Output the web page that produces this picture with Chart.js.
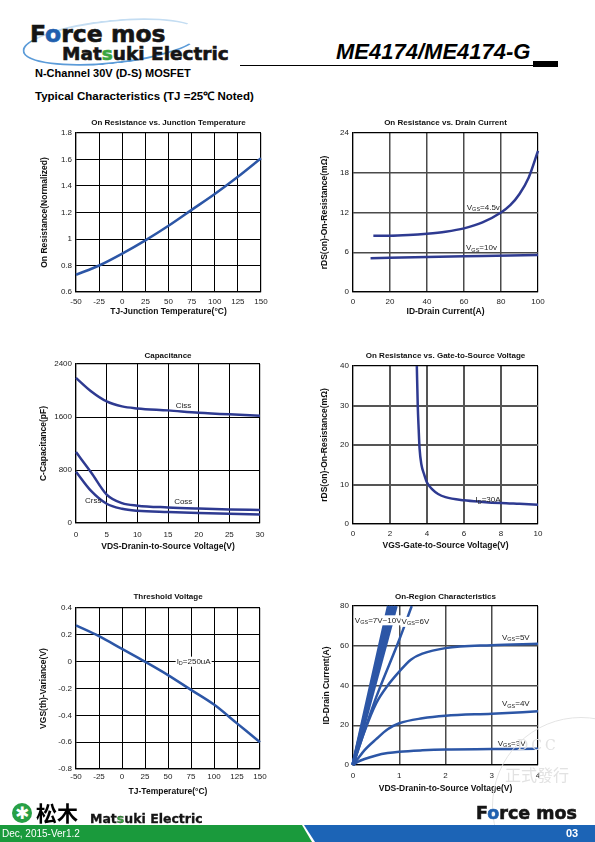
<!DOCTYPE html>
<html>
<head>
<meta charset="utf-8">
<script src="https://cdn.jsdelivr.net/npm/chart.js@4.4.1/dist/chart.umd.min.js"></script>
<style>
  body { margin: 0; width: 595px; height: 842px; position: relative; background: #fff; overflow: hidden;
         font-family: "Liberation Sans", Arial, sans-serif; }
  .abs { position: absolute; white-space: nowrap; }
  canvas { position: absolute; }
  .logo { font-family: "DejaVu Sans", sans-serif; font-weight: bold; color: #151515; line-height: 1; -webkit-text-stroke: 0.6px currentColor; }
</style>
</head>
<body>

<!-- header -->
<div class="abs" style="left:22px;top:20px;width:175px;height:40px;border:2px solid transparent;border-left-color:#5b9bd8;border-bottom-color:#5b9bd8;border-top-color:#c4ddf2;border-radius:50%;transform:rotate(-6deg)"></div>
<div class="abs logo" style="left:30px;top:23px;font-size:23.5px">F<span style="color:#1f5fae">o</span>rce mos</div>
<div class="abs logo" style="left:62px;top:45px;font-size:18.5px">Mat<span style="color:#39a53f">s</span>uki Electric</div>
<div class="abs" style="left:336px;top:41px;font-size:22px;font-weight:bold;font-style:italic;line-height:1">ME4174/ME4174-G</div>
<div class="abs" style="left:240px;top:65px;width:293px;height:1px;background:#000"></div>
<div class="abs" style="left:533px;top:61px;width:25px;height:6px;background:#000"></div>
<div class="abs" style="left:35px;top:67px;font-size:11px;font-weight:bold;line-height:12px">N-Channel 30V (D-S) MOSFET</div>
<div class="abs" style="left:35px;top:90px;font-size:11.5px;font-weight:bold;line-height:13px">Typical Characteristics (TJ =25℃ Noted)</div>

<canvas id="c1"></canvas>
<canvas id="c2"></canvas>
<canvas id="c3"></canvas>
<canvas id="c4"></canvas>
<canvas id="c5"></canvas>
<canvas id="c6"></canvas>

<!-- watermark -->
<div class="abs" style="left:492px;top:717px;width:176px;height:176px;border:1px solid #e4e4e4;border-radius:50%"></div>
<div class="abs" style="left:517px;top:737px;font-size:14px;color:#e2e2e2;letter-spacing:3px;font-family:'DejaVu Serif',serif">DCC</div>
<div class="abs" style="left:505px;top:762px;font-size:16px;color:#e2e2e2;font-family:'Noto Sans CJK TC',sans-serif">正式發行</div>

<!-- footer -->
<div class="abs" style="left:12px;top:803px;width:20px;height:20px;border-radius:50%;background:#27a046;color:#fff;font-size:17px;line-height:20px;text-align:center;font-family:'DejaVu Sans'">✱</div>
<div class="abs" style="left:36px;top:799px;font-size:21px;font-weight:bold;font-family:'Noto Sans CJK SC',sans-serif;line-height:26px">松木</div>
<div class="abs logo" style="left:90px;top:813px;font-size:12.5px;-webkit-text-stroke:0.3px #151515">Mat<span style="color:#39a53f">s</span>uki Electric</div>
<div class="abs logo" style="left:476px;top:805px;font-size:17.5px">F<span style="color:#1f5fae">o</span>rce mos</div>
<div class="abs" style="left:470px;top:819px;width:100px;height:10px;border-bottom:2px solid #5b9bd8;border-radius:50%"></div>
<div class="abs" style="left:0;top:825px;width:312px;height:17px;background:#1a9a3c;clip-path:polygon(0 0,302px 0,312px 100%,0 100%)"></div>
<div class="abs" style="left:304px;top:825px;width:291px;height:17px;background:#1c64b6;clip-path:polygon(0 0,100% 0,100% 100%,11px 100%)"></div>
<div class="abs" style="left:2px;top:827px;font-size:10px;color:#fff;line-height:13px">Dec, 2015-Ver1.2</div>
<div class="abs" style="left:566px;top:827px;font-size:11px;font-weight:bold;color:#fff;line-height:13px">03</div>

<script>
// On Resistance vs. Junction Temperature
const tjTemp = [-50, -25, 0, 25, 50, 75, 100, 125, 150];
const rdsNorm = [0.73, 0.80, 0.89, 0.99, 1.10, 1.22, 1.34, 1.47, 1.61];

// On Resistance vs. Drain Current
const idCur45 = [11, 20, 30, 40, 50, 60, 70, 80, 85, 90, 95, 100];
const rds45 = [8.5, 8.5, 8.6, 8.8, 9.1, 9.6, 10.5, 12.0, 13.1, 14.8, 17.3, 21.3];
const idCur10 = [9.5, 40, 70, 100];
const rds10 = [5.1, 5.3, 5.45, 5.6];

// Capacitance
const vdsCap = [0, 2.5, 5, 7.5, 10, 15, 20, 25, 30];
const ciss = [2190, 1985, 1835, 1760, 1730, 1700, 1665, 1640, 1620];
const coss = [1070, 760, 430, 300, 262, 235, 218, 205, 195];
const crss = [775, 480, 290, 215, 185, 165, 150, 138, 128];

// On Resistance vs. Gate-to-Source Voltage
const vgsR = [3.45, 3.5, 3.55, 3.6, 3.7, 3.85, 4, 4.3, 4.6, 5, 6, 7, 8, 9, 10];
const rdsVgs = [40, 30, 24, 19, 15, 12.5, 10.5, 8.7, 7.6, 6.8, 6.0, 5.6, 5.3, 5.1, 4.9];

// Threshold Voltage
const vthVar = [0.27, 0.19, 0.095, 0.0, -0.10, -0.21, -0.32, -0.46, -0.60];

// On-Region Characteristics
const vdsOut = [0, 0.1, 0.25, 0.5, 0.75, 1, 1.5, 2, 3, 4];
const id3v = [0, 1.5, 3, 4.8, 6, 6.7, 7.4, 7.8, 8.0, 8.2];
const id4v = [0, 3, 7.5, 13, 18, 21, 23.5, 24.8, 25.8, 27];
const vds5v = [0, 0.25, 0.5, 0.75, 1, 1.25, 1.5, 2, 3, 4];
const id5v = [0, 17, 31, 40, 47, 53, 56, 58.8, 60.3, 61];
const vds6v = [0, 0.5, 1, 1.27];
const id6v = [0, 34, 63, 80];
const vdsHigh = [0.77, 0.82, 0.87, 0.93];   // Vds where 7V..10V curves reach 80A

Chart.defaults.font.family = '"Liberation Sans", Arial, Helvetica, sans-serif';
Chart.defaults.font.size = 8;
Chart.defaults.color = '#222';

const pts = (xs, ys) => xs.map((x, i) => ({ x: x, y: ys[i] }));
const fmt = v => { const r = Math.round(v * 100) / 100; return String(r === 0 ? 0 : r); };

// text notes inside the plot, "_{..}" is a subscript
const notePlugin = {
  id: 'notes',
  afterDatasetsDraw(chart, args, opts) {
    const { ctx } = chart;
    const x = chart.scales.x, y = chart.scales.y;
    (opts.items || []).forEach(n => {
      const px = x.getPixelForValue(n.x), py = y.getPixelForValue(n.y);
      const parts = n.text.split(/(_\{[^}]*\})/).filter(Boolean);
      ctx.save();
      ctx.textBaseline = 'middle';
      let w = 0;
      const segs = parts.map(p => {
        const sub = p.startsWith('_{');
        const t = sub ? p.slice(2, -1) : p;
        ctx.font = (sub ? '5.5px' : '8px') + ' "Liberation Sans", Arial, sans-serif';
        const sw = ctx.measureText(t).width;
        w += sw;
        return { t, sub, sw };
      });
      if (n.bg) {
        ctx.fillStyle = '#fff';
        ctx.fillRect(px - 1, py - 5, w + 2, 10);
      }
      let cx = px;
      ctx.fillStyle = '#222';
      segs.forEach(s => {
        ctx.font = (s.sub ? '5.5px' : '8px') + ' "Liberation Sans", Arial, sans-serif';
        ctx.fillText(s.t, cx, s.sub ? py + 2 : py);
        cx += s.sw;
      });
      ctx.restore();
    });
  }
};

function gridOf(min, max, color, width) {
  const edge = c => c.tick && (Math.abs(c.tick.value - min) < 1e-9 || Math.abs(c.tick.value - max) < 1e-9);
  return {
    color: c => edge(c) ? '#000' : color,
    lineWidth: c => edge(c) ? 1.2 : width,
    drawTicks: false
  };
}

function line(data, color, width) {
  return { data: data, showLine: true, borderColor: color, borderWidth: width || 2.5,
           pointRadius: 0, cubicInterpolationMode: 'monotone', clip: 4 };
}

function makeChart(id, s) {
  const [pl, pt, pr, pb] = s.plot;
  const left = Math.round(s.yTitleX - 5.1);
  const top = Math.round(s.titleY - 6.8);
  const width = Math.round(pr + 14 - left);
  const axisBottom = s.xTitleY + 5.1;
  const height = Math.round(axisBottom + 2 - top);
  const cv = document.getElementById(id);
  cv.width = width; cv.height = height;
  cv.style.left = left + 'px'; cv.style.top = top + 'px';
  new Chart(cv, {
    type: 'scatter',
    data: { datasets: s.datasets },
    plugins: [notePlugin],
    options: {
      responsive: false, animation: false, devicePixelRatio: 1,
      layout: { padding: { left: 0, right: 14, top: 0, bottom: height - (axisBottom - top) } },
      plugins: {
        legend: { display: false }, tooltip: { enabled: false },
        title: { display: true, text: s.title, fullSize: false, color: '#111',
                 font: { size: 8, weight: 'bold' },
                 padding: { top: s.titleY - top - 4.8, bottom: pt - s.titleY - 4.8 } },
        notes: { items: s.notes || [] }
      },
      scales: {
        x: {
          type: 'linear', min: s.x[0], max: s.x[1],
          ticks: { stepSize: s.x[2], padding: s.xTickPad, autoSkip: false, maxRotation: 0, callback: fmt, color: '#222' },
          grid: gridOf(s.x[0], s.x[1], s.gridColor, s.gridWidth),
          border: { color: '#000', width: 1.2 },
          title: { display: true, text: s.xTitle, color: '#111', font: { size: 8.5, weight: 'bold' }, padding: 0 },
          afterFit: sc => { sc.height = axisBottom - pb; }
        },
        y: {
          type: 'linear', min: s.y[0], max: s.y[1],
          ticks: { stepSize: s.y[2], padding: 4, autoSkip: false, callback: fmt, color: '#222' },
          grid: gridOf(s.y[0], s.y[1], s.gridColor, s.gridWidth),
          border: { color: '#000', width: 1.2 },
          title: { display: true, text: s.yTitle, color: '#111', font: { size: 8.5, weight: 'bold' }, padding: 0 },
          afterFit: sc => { sc.width = pl - left; }
        }
      }
    }
  });
}

const BLUE = '#2c56a6';
const NAVY = '#2e3a91';

makeChart('c1', {
  plot: [76, 133, 261, 292], titleY: 123, yTitleX: 45, xTitleY: 312, xTickPad: 5,
  title: 'On Resistance vs. Junction Temperature',
  xTitle: 'TJ-Junction Temperature(°C)', yTitle: 'On Resistance(Normalized)',
  x: [-50, 150, 25], y: [0.6, 1.8, 0.2], gridColor: '#000', gridWidth: 1,
  datasets: [line(pts(tjTemp, rdsNorm), BLUE)]
});

makeChart('c2', {
  plot: [353, 133, 538, 292], titleY: 123, yTitleX: 325, xTitleY: 312, xTickPad: 5,
  title: 'On Resistance vs. Drain Current',
  xTitle: 'ID-Drain Current(A)', yTitle: 'rDS(on)-On-Resistance(mΩ)',
  x: [0, 100, 20], y: [0, 24, 6], gridColor: '#4a4a4a', gridWidth: 1.5,
  datasets: [line(pts(idCur45, rds45), NAVY), line(pts(idCur10, rds10), NAVY)],
  notes: [{ x: 61.5, y: 12.7, text: 'V_{GS}=4.5v' }, { x: 61.1, y: 6.64, text: 'V_{GS}=10v' }]
});

makeChart('c3', {
  plot: [76, 364, 260, 523], titleY: 356, yTitleX: 44, xTitleY: 547, xTickPad: 7,
  title: 'Capacitance',
  xTitle: 'VDS-Dranin-to-Source Voltage(V)', yTitle: 'C-Capacitance(pF)',
  x: [0, 30, 5], y: [0, 2400, 800], gridColor: '#000', gridWidth: 1,
  datasets: [line(pts(vdsCap, ciss), NAVY), line(pts(vdsCap, coss), NAVY), line(pts(vdsCap, crss), NAVY)],
  notes: [{ x: 16.25, y: 1769, text: 'Ciss' }, { x: 16, y: 318, text: 'Coss' }, { x: 1.47, y: 328, text: 'Crss' }]
});

makeChart('c4', {
  plot: [353, 366, 538, 524], titleY: 356, yTitleX: 325, xTitleY: 546, xTickPad: 5,
  title: 'On Resistance vs. Gate-to-Source Voltage',
  xTitle: 'VGS-Gate-to-Source Voltage(V)', yTitle: 'rDS(on)-On-Resistance(mΩ)',
  x: [0, 10, 2], y: [0, 40, 10], gridColor: '#555', gridWidth: 2,
  datasets: [line(pts(vgsR, rdsVgs), NAVY)],
  notes: [{ x: 6.62, y: 6.07, text: 'I_{D}=30A' }]
});

makeChart('c5', {
  plot: [76, 608, 260, 769], titleY: 597, yTitleX: 44, xTitleY: 792, xTickPad: 3,
  title: 'Threshold Voltage',
  xTitle: 'TJ-Temperature(°C)', yTitle: 'VGS(th)-Variance(V)',
  x: [-50, 150, 25], y: [-0.8, 0.4, 0.2], gridColor: '#000', gridWidth: 1,
  datasets: [line(pts(tjTemp, vthVar), BLUE)],
  notes: [{ x: 59.4, y: 0, text: 'I_{D}=250uA', bg: true }]
});

makeChart('c6', {
  plot: [353, 606, 538, 765], titleY: 597, yTitleX: 327, xTitleY: 789, xTickPad: 6,
  title: 'On-Region Characteristics',
  xTitle: 'VDS-Dranin-to-Source Voltage(V)', yTitle: 'ID-Drain Current(A)',
  x: [0, 4, 1], y: [0, 80, 20], gridColor: '#4a4a4a', gridWidth: 1.5,
  datasets: [
    line(pts(vdsOut, id3v), BLUE),
    line(pts(vdsOut, id4v), BLUE),
    line(pts(vds5v, id5v), BLUE),
    line(pts(vds6v, id6v), BLUE),
    ...vdsHigh.map(v => line([{ x: 0, y: 0 }, { x: v, y: 80 }], BLUE, 3.5))
  ],
  notes: [
    { x: 0.04, y: 72.8, text: 'V_{GS}=7V~10V', bg: true },
    { x: 1.05, y: 72, text: 'V_{GS}=6V', bg: true },
    { x: 3.22, y: 64.1, text: 'V_{GS}=5V' },
    { x: 3.22, y: 30.6, text: 'V_{GS}=4V' },
    { x: 3.13, y: 10.9, text: 'V_{GS}=3V' }
  ]
});
</script>
</body>
</html>
